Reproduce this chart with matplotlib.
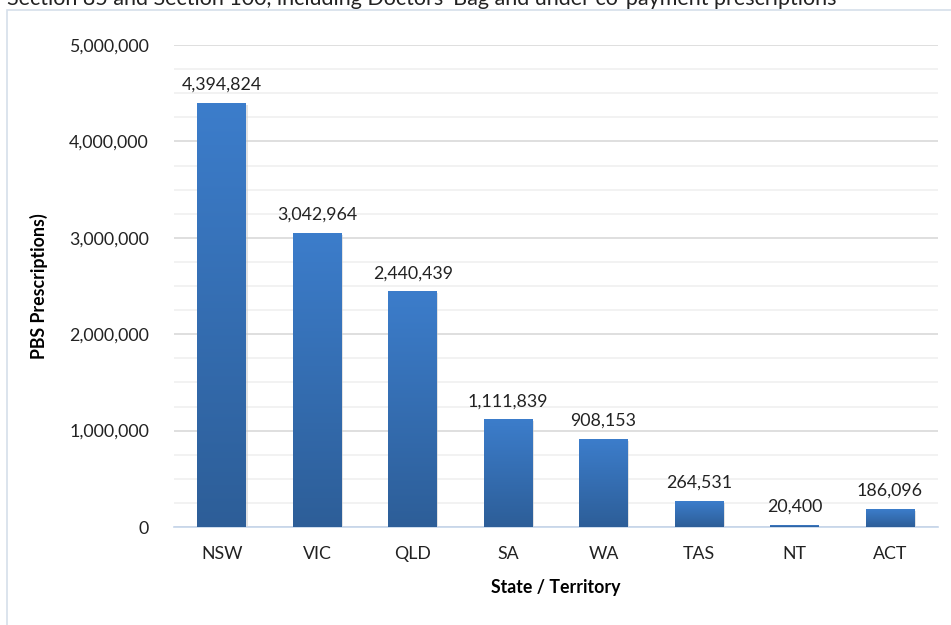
import numpy as np
import matplotlib.pyplot as plt
from matplotlib.colors import LinearSegmentedColormap
from matplotlib.patches import Rectangle
from matplotlib.ticker import FuncFormatter, MultipleLocator

plt.rcParams['font.family'] = ['Lato', 'DejaVu Sans']

states = ['NSW', 'VIC', 'QLD', 'SA', 'WA', 'TAS', 'NT', 'ACT']
prescriptions = [4394824, 3042964, 2440439, 1111839, 908153, 264531, 20400, 186096]
title = "Section 85 and Section 100, including Doctors' Bag and under co-payment prescriptions"

fig = plt.figure(figsize=(9.51, 6.25), dpi=100)
ax = fig.add_axes([0.183, 0.1568, 0.803, 0.7712])

# outer chart frame, partly cut off like the screenshot
fig.patches.append(Rectangle((7/951, -0.1), 1.2, 1 - 10/625 + 0.1, transform=fig.transFigure,
                             fill=False, edgecolor='#d5dfea', linewidth=1.2, zorder=0))
fig.text(7/951, 1 - 5/625, title, fontsize=15.5, va='baseline', ha='left', color='#222222')

x = np.arange(len(states))
width = 0.51
cmap = LinearSegmentedColormap.from_list('bar', ['#2d5e98', '#3c7dcb'])
grad = np.linspace(0, 1, 256).reshape(-1, 1)

fs = 12.8
bars = ax.bar(x, prescriptions, width, color='none', zorder=3)
for b, v in zip(bars, prescriptions):
    x0, w, h = b.get_x(), b.get_width(), b.get_height()
    # soft shadow
    ax.add_patch(Rectangle((x0 + 0.015, 0), w, h - 15000, color='#c9c9c9', alpha=0.5, zorder=2, lw=0))
    ax.imshow(grad, extent=[x0, x0 + w, 0, h], origin='lower', cmap=cmap,
              aspect='auto', zorder=3)
    ax.text(b.get_x() + w / 2, h + 110000, f'{v:,}', ha='center', va='bottom',
            fontsize=fs, color='#222222', zorder=4)

ax.set_xlim(-0.5, len(states) - 0.5)
ax.set_ylim(0, 5000000)
ax.set_xticks(x)
ax.set_xticklabels(states)
ax.yaxis.set_major_locator(MultipleLocator(1000000))
ax.yaxis.set_minor_locator(MultipleLocator(250000))
ax.yaxis.set_major_formatter(FuncFormatter(lambda v, p: f'{int(v):,}'))
ax.grid(axis='y', which='major', color='#d9d9d9', linewidth=1.2, zorder=0)
ax.grid(axis='y', which='minor', color='#f0f0f0', linewidth=1.2, zorder=0)
ax.tick_params(axis='both', which='both', length=0, labelsize=fs, colors='#222222')
ax.tick_params(axis='y', pad=18)
ax.tick_params(axis='x', pad=14)
for s in ['top', 'right', 'left']:
    ax.spines[s].set_visible(False)
ax.spines['bottom'].set_color('#c5d5ea')
ax.spines['bottom'].set_linewidth(1.2)

ax.set_xlabel('State / Territory', fontsize=fs, fontweight='bold', labelpad=12)
ax.set_ylabel('PBS Prescriptions)', fontsize=fs, fontweight='bold', labelpad=15)

fig.savefig('out.png', dpi=100)
